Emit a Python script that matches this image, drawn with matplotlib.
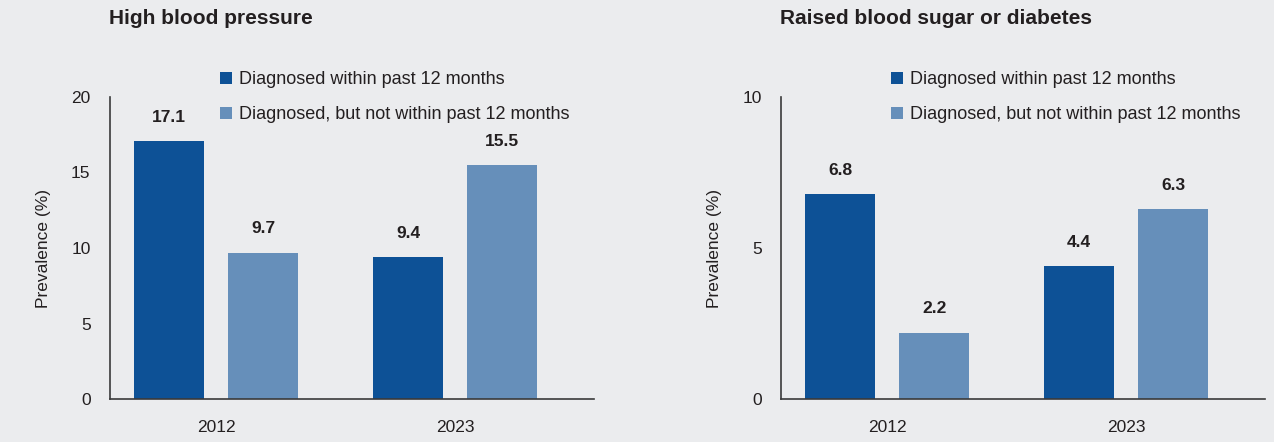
import numpy as np
import matplotlib.pyplot as plt
from matplotlib.patches import Patch

plt.rcParams['font.family'] = ['Liberation Sans', 'DejaVu Sans']

# Data
years = ['2012', '2023']
series_names = ['Diagnosed within past 12 months',
                'Diagnosed, but not within past 12 months']

bp_recent = [17.1, 9.4]      # high blood pressure, diagnosed within 12 months
bp_older = [9.7, 15.5]       # high blood pressure, diagnosed earlier
sugar_recent = [6.8, 4.4]    # raised blood sugar / diabetes, within 12 months
sugar_older = [2.2, 6.3]     # raised blood sugar / diabetes, earlier

panels = [
    ('High blood pressure', bp_recent, bp_older, 20, [0, 5, 10, 15, 20]),
    ('Raised blood sugar or diabetes', sugar_recent, sugar_older, 10, [0, 5, 10]),
]

# Styles
bg = '#ebecee'
dark_blue = '#0d5196'
light_blue = '#668fba'
text_col = '#231f20'
spine_col = '#3a3a3a'

fig = plt.figure(figsize=(12.74, 4.42), dpi=100, facecolor=bg)

W, H = 1274, 442
ax_left_px = [110, 781]
ax_w_px = 484
ax_top_px, ax_bot_px = 97, 399

x = np.arange(len(years))
bar_w = 0.293
off = 0.197

for i, (title, recent, older, ymax, yticks) in enumerate(panels):
    ax = fig.add_axes([ax_left_px[i] / W, 1 - ax_bot_px / H,
                       ax_w_px / W, (ax_bot_px - ax_top_px) / H])
    ax.set_facecolor(bg)

    b1 = ax.bar(x - off, recent, bar_w, color=dark_blue)
    b2 = ax.bar(x + off, older, bar_w, color=light_blue)

    for bars, vals in ((b1, recent), (b2, older)):
        for rect, v in zip(bars, vals):
            ax.annotate(f'{v}', (rect.get_x() + rect.get_width() / 2, v),
                        xytext=(0, 17), textcoords='offset points',
                        ha='center', va='center', fontsize=12.5,
                        fontweight='bold', color=text_col)

    ax.set_xlim(-0.4435, 1.58)
    ax.set_ylim(0, ymax)
    ax.set_xticks(x)
    ax.set_xticklabels(years)
    ax.set_yticks(yticks)
    ax.tick_params(length=0, labelsize=12.5, labelcolor=text_col)
    ax.tick_params(axis='y', pad=14)
    ax.tick_params(axis='x', pad=15)

    for s in ('top', 'right'):
        ax.spines[s].set_visible(False)
    for s in ('left', 'bottom'):
        ax.spines[s].set_color(spine_col)
        ax.spines[s].set_linewidth(1.2)

    ax.set_ylabel('Prevalence (%)', fontsize=12.5, color=text_col)
    ax.yaxis.set_label_coords(-0.122, 0.5)

    # Panel title
    fig.text((ax_left_px[i] - 1) / W, 1 - 19 / H, title, fontsize=15,
             fontweight='bold', color=text_col, ha='left', va='center')

    handles = [Patch(facecolor=dark_blue), Patch(facecolor=light_blue)]
    ax.legend(handles, series_names, loc='upper left',
              bbox_to_anchor=(0.227, 1.085), frameon=False, fontsize=13,
              handlelength=0.67, handleheight=0.67, handletextpad=0.4,
              labelspacing=0.99, borderpad=0, borderaxespad=0,
              labelcolor=text_col)

fig.savefig('out.png', dpi=100, facecolor=bg)
